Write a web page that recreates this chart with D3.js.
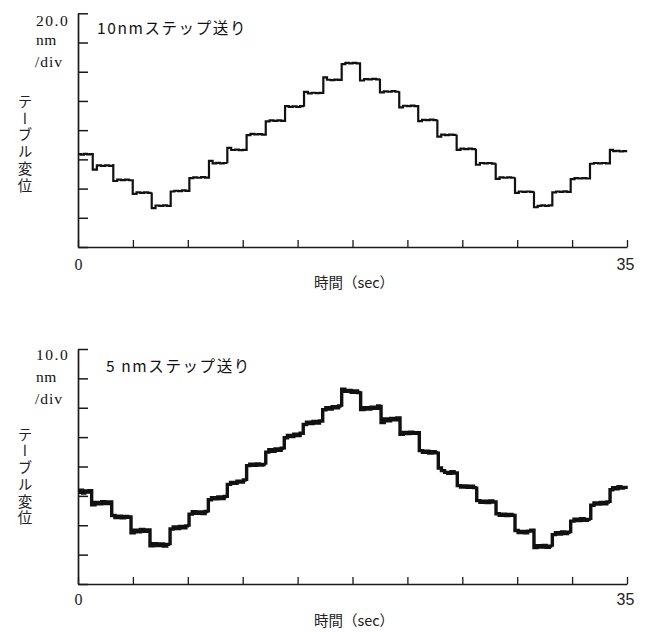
<!DOCTYPE html>
<html><head><meta charset="utf-8">
<script src="https://cdn.jsdelivr.net/npm/d3@7"></script>
<style>body{margin:0;background:#fff}svg{display:block}</style>
</head><body>
<svg id="chart" width="648" height="632"></svg>
<script>
// Time axis: 0–35 s in ten divisions, only the ends are labelled
const xTicks = [0, 3.5, 7, 10.5, 14, 17.5, 21, 24.5, 28, 31.5, 35];
const xTickLabels = {0: "0", 35: "35"};

// Upper trace: 10 nm steps, 20 nm/div
const topScale = ["20.0", "nm", "/div"];
const topTitle = "10nmステップ送り";
const topYTicks = [0, 20, 40, 60, 80, 100, 120, 140, 160];
const topStepTimes = [0, 0.94, 2.25, 3.49, 4.70, 5.91, 7.10, 8.35, 9.52, 10.75, 11.97, 13.20, 14.41, 15.64,
  16.81, 17.98, 19.25, 20.48, 21.69, 22.91, 24.14, 25.37, 26.63, 27.86, 29.07, 30.24, 31.41, 32.64, 33.91, 34.94];
const topPlateaus = [
  [63.6, 63.3, 63.7, 63.4, 63.6, 63.5],
  [53.0, 55.9, 55.5, 55.9, 55.6, 56.9],
  [45.2, 46.1, 45.8, 46.1, 45.7, 46.3],
  [36.4, 37.4, 37.1, 37.4, 37.0, 37.3],
  [26.6, 28.4, 28.1, 28.5, 28.2, 28.9],
  [38.0, 38.5, 38.3, 38.7, 38.4, 38.7],
  [47.2, 47.7, 47.4, 47.8, 47.5, 47.7],
  [58.9, 57.3, 57.6, 57.2, 57.5, 57.4],
  [67.8, 66.4, 66.7, 66.3, 66.5, 66.8],
  [76.6, 77.4, 77.1, 77.3, 77.0, 77.4],
  [86.0, 86.7, 86.4, 86.7, 86.3, 86.8],
  [96.5, 96.0, 96.3, 96.0, 96.4, 96.1],
  [106.2, 105.2, 105.6, 105.3, 105.5, 105.8],
  [116.2, 114.5, 114.3, 114.6, 114.4, 114.8],
  [125.2, 126.0, 125.7, 126.1, 125.7, 125.4],
  [114.0, 115.0, 114.7, 115.1, 114.7, 115.2],
  [105.8, 106.6, 106.3, 106.7, 106.3, 106.6],
  [95.6, 96.7, 96.4, 96.8, 96.5, 96.3],
  [86.2, 87.1, 86.8, 87.2, 86.9, 87.2],
  [75.5, 76.9, 76.6, 77.0, 76.7, 76.8],
  [66.5, 67.3, 67.0, 67.3, 67.0, 67.2],
  [56.3, 57.5, 57.2, 57.5, 57.1, 57.4],
  [46.6, 47.7, 47.4, 47.7, 47.4, 47.6],
  [37.0, 38.0, 37.7, 38.0, 37.7, 38.0],
  [27.2, 28.2, 28.5, 28.2, 28.5, 28.8],
  [37.4, 38.0, 37.8, 38.1, 37.8, 38.3],
  [46.5, 47.2, 46.9, 47.2, 46.9, 47.4],
  [57.0, 57.5, 57.2, 57.5, 57.2, 58.0],
  [66.5, 65.6, 65.9, 65.4, 65.6, 64.9]
];

// Lower trace: 5 nm steps, 10 nm/div
const bottomScale = ["10.0", "nm", "/div"];
const bottomTitle = "5 nmステップ送り";
const bottomYTicks = [0, 10, 20, 30, 40, 50, 60, 70, 80];
const bottomStepTimes = [0, 0.87, 2.15, 3.38, 4.59, 5.87, 7.08, 8.31, 9.52, 10.75, 11.97, 13.15, 14.36, 15.60,
  16.81, 18.02, 19.32, 20.53, 21.76, 22.97, 24.18, 25.42, 26.65, 27.86, 29.07, 30.24, 31.41, 32.69, 33.92, 34.94];
const bottomPlateaus = [
  [31.2, 31.9, 31.0, 31.7, 31.3, 31.8, 30.9],
  [27.0, 27.8, 27.3, 28.0, 27.4, 27.9, 27.5],
  [23.3, 22.6, 23.1, 22.5, 23.0, 22.7, 23.4],
  [17.4, 18.3, 17.8, 18.6, 17.9, 18.4, 18.0],
  [13.0, 13.7, 13.1, 13.6, 12.9, 13.5, 13.2],
  [18.7, 19.4, 18.9, 19.6, 19.1, 19.8, 19.5],
  [23.8, 24.6, 24.1, 24.5, 24.0, 24.7, 24.3],
  [28.7, 29.4, 29.0, 29.6, 29.1, 29.8, 29.3],
  [33.9, 34.6, 34.3, 35.0, 34.7, 35.4, 35.1],
  [40.3, 40.8, 40.4, 40.9, 40.5, 40.7, 40.6],
  [44.9, 45.7, 45.2, 46.0, 45.5, 46.2, 45.8],
  [49.8, 50.6, 50.2, 51.0, 50.5, 51.3, 51.6],
  [54.3, 55.1, 54.6, 55.3, 54.8, 55.5, 54.9],
  [59.3, 60.0, 59.6, 60.4, 60.0, 60.6, 60.3],
  [66.3, 65.6, 65.9, 65.3, 65.7, 65.2, 65.6],
  [59.4, 60.0, 59.6, 60.2, 59.8, 60.6, 61.0],
  [55.0, 56.2, 55.6, 56.4, 55.9, 56.5, 56.0],
  [51.0, 51.6, 51.2, 51.7, 51.3, 51.5, 51.4],
  [45.4, 44.8, 45.2, 44.6, 45.0, 44.7, 45.1],
  [39.5, 38.6, 38.0, 37.7, 38.2, 37.8, 38.4],
  [33.5, 33.0, 33.4, 32.9, 33.3, 32.8, 33.2],
  [28.4, 27.8, 28.2, 27.7, 28.3, 27.9, 28.5],
  [23.9, 23.4, 23.8, 23.3, 23.7, 23.4, 23.9],
  [18.2, 17.5, 17.9, 17.4, 18.0, 18.3, 17.9],
  [12.4, 13.0, 12.6, 13.1, 12.5, 12.9, 12.7],
  [16.8, 17.5, 17.0, 17.7, 17.2, 17.6, 17.3],
  [21.4, 22.1, 21.6, 22.2, 21.7, 22.0, 21.8],
  [26.8, 27.6, 27.2, 27.8, 27.3, 27.9, 27.6],
  [32.1, 32.8, 32.4, 33.1, 32.7, 32.9, 32.3]
];

const yAxisTitle = "テーブル変位";
const xAxisTitle = "時間（sec）";

const svg = d3.select("#chart");
const INK = "#1a1a1a";
const SERIF = "'Liberation Serif', 'DejaVu Serif', serif";
const SANS = "'Liberation Sans', Arial, sans-serif";
const CJK = "'Noto Sans CJK JP', 'Noto Sans', sans-serif";

function drawPanel(p) {
  const x = d3.scaleLinear().domain([0, 35]).range([78, 627]);
  const y = d3.scaleLinear().domain([0, p.yTicks[p.yTicks.length - 1]]).range([p.bottom, p.top]);
  const g = svg.append("g");

  // vertical axis with inward ticks
  const ya = g.append("g").attr("transform", `translate(${x(0)},0)`)
    .call(d3.axisLeft(y).tickValues(p.yTicks).tickSizeInner(-10).tickSizeOuter(0).tickFormat(""));
  ya.select(".domain").attr("stroke", INK).attr("stroke-width", 1.7);
  ya.selectAll(".tick line").attr("stroke", INK).attr("stroke-width", 1.5);

  // horizontal time axis with short upward ticks
  const xa = g.append("g").attr("transform", `translate(0,${y(0)})`)
    .call(d3.axisBottom(x).tickValues(xTicks).tickSizeInner(-7).tickSizeOuter(0)
      .tickPadding(p.labelPad).tickFormat(d => xTickLabels[d] || ""));
  xa.select(".domain").attr("stroke", INK).attr("stroke-width", 1.6);
  xa.selectAll(".tick line").attr("stroke", INK).attr("stroke-width", 1.3);
  xa.selectAll(".tick text").attr("fill", "#222")
    .attr("font-family", d => d === 0 ? SERIF : SANS)
    .attr("font-size", 16)
    .attr("dx", d => d === 35 ? -2 : 0);

  // stepped displacement trace; samples inside a plateau are held until the next one
  const pts = [];
  p.plateaus.forEach((vals, i) => {
    const t0 = p.times[i], t1 = p.times[i + 1], n = vals.length;
    vals.forEach((v, k) => pts.push([t0 + (t1 - t0) * k / (n - 1), v]));
  });
  g.append("path").datum(pts)
    .attr("fill", "none").attr("stroke", "#111").attr("stroke-width", p.lineWidth)
    .attr("stroke-linejoin", "miter")
    .attr("d", d3.line().curve(d3.curveStepAfter).x(d => x(d[0])).y(d => y(d[1])));

  // scale annotation left of the axis top
  const sc = g.append("g").attr("font-family", SERIF).attr("fill", "#111").attr("font-size", 15.5);
  sc.append("text").attr("x", 36).attr("y", p.top + p.scaleOffsets[0]).attr("letter-spacing", 1.5).text(p.scale[0]);
  sc.append("text").attr("x", 36).attr("y", p.top + p.scaleOffsets[1]).attr("letter-spacing", 0.5).text(p.scale[1]);
  sc.append("text").attr("x", 35).attr("y", p.top + p.scaleOffsets[2]).attr("letter-spacing", 1).text(p.scale[2]);

  // step-size title inside the plot
  g.append("text").attr("x", p.titleX).attr("y", p.top + p.titleOffset)
    .attr("font-family", CJK).attr("font-size", 15.5).attr("fill", "#111")
    .attr("letter-spacing", 1.6).text(p.title);

  // vertical axis title, set in vertical writing mode
  g.append("text").attr("x", 25).attr("y", p.top + p.vTitleOffset)
    .attr("font-family", CJK).attr("font-size", 14.5).attr("fill", "#222")
    .style("writing-mode", "vertical-rl").style("text-orientation", "upright")
    .attr("letter-spacing", 2.2).text(yAxisTitle);

  // horizontal axis title
  g.append("text").attr("x", 354).attr("y", p.bottom + p.xTitleOffset)
    .attr("text-anchor", "middle").attr("font-family", CJK).attr("font-size", 14.5)
    .attr("fill", "#222").text(xAxisTitle);
}

drawPanel({
  top: 13.3, bottom: 247, yTicks: topYTicks, times: topStepTimes, plateaus: topPlateaus,
  lineWidth: 2.2, labelPad: 12, scale: topScale, scaleOffsets: [13, 32, 54],
  title: topTitle, titleX: 97, titleOffset: 21, xTitleOffset: 41, vTitleOffset: 81
});
drawPanel({
  top: 349, bottom: 584, yTicks: bottomYTicks, times: bottomStepTimes, plateaus: bottomPlateaus,
  lineWidth: 3.4, labelPad: 10, scale: bottomScale, scaleOffsets: [11, 33, 55],
  title: bottomTitle, titleX: 106, titleOffset: 23, xTitleOffset: 42, vTitleOffset: 78
});
</script>
</body></html>
